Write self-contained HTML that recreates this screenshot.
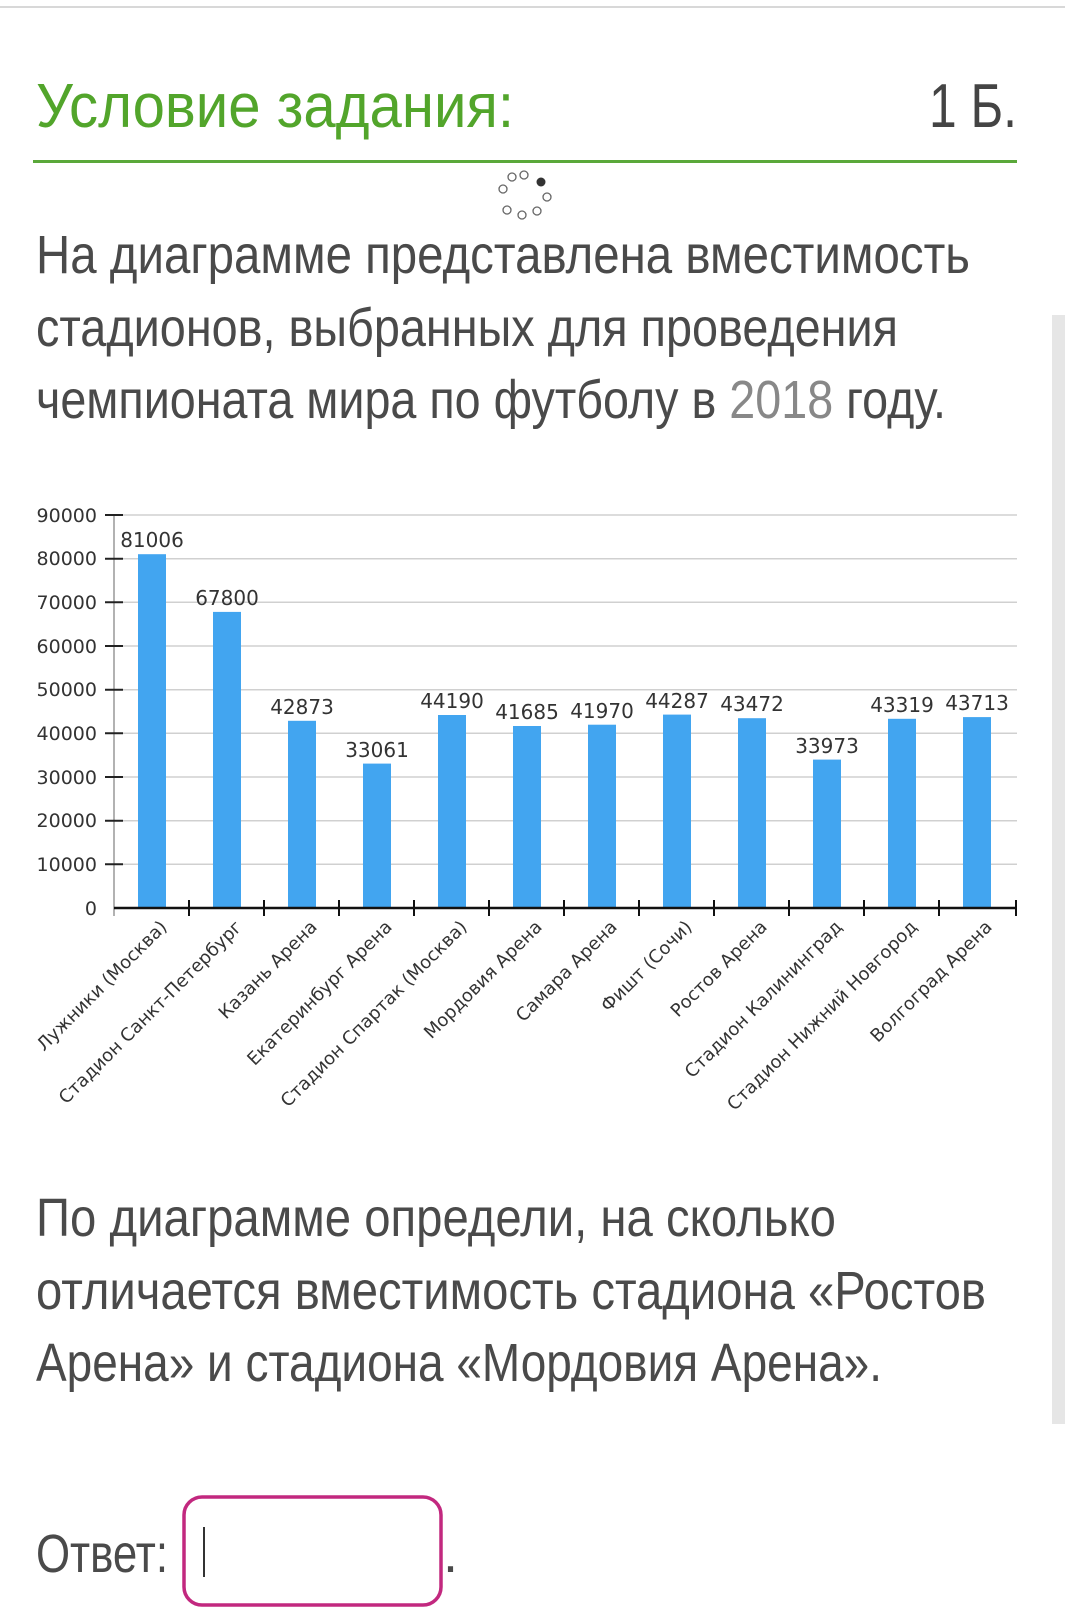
<!DOCTYPE html>
<html><head><meta charset="utf-8"><style>
html,body{margin:0;padding:0;background:#fff;}
svg{display:block;}
.t{font-family:"Liberation Sans Narrow","Liberation Sans",sans-serif;}
.c{font-family:"DejaVu Sans","Liberation Sans",sans-serif;}
</style></head><body>
<svg width="1065" height="1618" viewBox="0 0 1065 1618" xmlns="http://www.w3.org/2000/svg">
<rect x="0" y="0" width="1065" height="1618" fill="#fff"/>
<rect x="0" y="6" width="1065" height="2" fill="#d8d8d8"/>
<text class="t" x="36" y="127" font-size="62" fill="#52a52b" textLength="478" lengthAdjust="spacingAndGlyphs">Условие задания:</text>
<text class="t" x="929" y="127" font-size="62" fill="#444" textLength="88" lengthAdjust="spacingAndGlyphs">1 Б.</text>
<rect x="33" y="160" width="984" height="3" fill="#5aa83a"/>
<g fill="#fff" stroke="#666" stroke-width="1.3">
<circle cx="512" cy="177" r="4"/><circle cx="524" cy="175" r="4"/>
<circle cx="503" cy="189" r="4"/><circle cx="547" cy="197" r="4"/>
<circle cx="507" cy="210" r="4"/><circle cx="522" cy="215" r="4"/><circle cx="537" cy="211" r="4"/>
</g>
<circle cx="541" cy="182" r="4.5" fill="#333"/>
<g class="t" font-size="54" fill="#4a4a4a">
<text x="36" y="273" textLength="934" lengthAdjust="spacingAndGlyphs">На диаграмме представлена вместимость</text>
<text x="36" y="346" textLength="862" lengthAdjust="spacingAndGlyphs">стадионов, выбранных для проведения</text>
<text x="36" y="418" textLength="910" lengthAdjust="spacingAndGlyphs">чемпионата мира по футболу в <tspan fill="#888">2018</tspan> году.</text>
<text x="36" y="1236" textLength="800" lengthAdjust="spacingAndGlyphs">По диаграмме определи, на сколько</text>
<text x="36" y="1309" textLength="950" lengthAdjust="spacingAndGlyphs">отличается вместимость стадиона «Ростов</text>
<text x="36" y="1381" textLength="846" lengthAdjust="spacingAndGlyphs">Арена» и стадиона «Мордовия Арена».</text>
<text x="36" y="1572" textLength="132" lengthAdjust="spacingAndGlyphs">Ответ:</text>
<text x="443" y="1572">.</text>
</g>
<rect x="1052" y="315" width="13" height="1109" fill="#e6e6e6"/>
<rect x="184" y="1497" width="257" height="108" rx="18" fill="none" stroke="#c2287f" stroke-width="3.5"/>
<rect x="203" y="1527" width="2" height="50" fill="#333"/>
<g class="c">
<g stroke="#d0d0d0" stroke-width="1.5">
<line x1="114" y1="515" x2="1017" y2="515"/><line x1="114" y1="558.7" x2="1017" y2="558.7"/>
<line x1="114" y1="602.3" x2="1017" y2="602.3"/><line x1="114" y1="646" x2="1017" y2="646"/>
<line x1="114" y1="689.7" x2="1017" y2="689.7"/><line x1="114" y1="733.3" x2="1017" y2="733.3"/>
<line x1="114" y1="777" x2="1017" y2="777"/><line x1="114" y1="820.7" x2="1017" y2="820.7"/>
<line x1="114" y1="864.3" x2="1017" y2="864.3"/>
</g>
<line x1="114" y1="515" x2="114" y2="916" stroke="#999" stroke-width="1.5"/>
<g stroke="#222" stroke-width="2">
<line x1="105" y1="515" x2="123" y2="515"/><line x1="105" y1="558.7" x2="123" y2="558.7"/>
<line x1="105" y1="602.3" x2="123" y2="602.3"/><line x1="105" y1="646" x2="123" y2="646"/>
<line x1="105" y1="689.7" x2="123" y2="689.7"/><line x1="105" y1="733.3" x2="123" y2="733.3"/>
<line x1="105" y1="777" x2="123" y2="777"/><line x1="105" y1="820.7" x2="123" y2="820.7"/>
<line x1="105" y1="864.3" x2="123" y2="864.3"/>
</g>
<g font-size="19" fill="#333" text-anchor="end">
<text x="97" y="522">90000</text><text x="97" y="565">80000</text><text x="97" y="609">70000</text>
<text x="97" y="653">60000</text><text x="97" y="696">50000</text><text x="97" y="740">40000</text>
<text x="97" y="784">30000</text><text x="97" y="827">20000</text><text x="97" y="871">10000</text>
<text x="97" y="915">0</text>
</g>
<g fill="#42a5f0">
<rect x="138" y="554.2" width="28" height="353.8"/>
<rect x="213" y="611.9" width="28" height="296.1"/>
<rect x="288" y="720.8" width="28" height="187.2"/>
<rect x="363" y="763.6" width="28" height="144.4"/>
<rect x="438" y="715" width="28" height="193"/>
<rect x="513" y="726" width="28" height="182"/>
<rect x="588" y="724.7" width="28" height="183.3"/>
<rect x="663" y="714.6" width="28" height="193.4"/>
<rect x="738" y="718.2" width="28" height="189.8"/>
<rect x="813" y="759.6" width="28" height="148.4"/>
<rect x="888" y="718.8" width="28" height="189.2"/>
<rect x="963" y="717.1" width="28" height="190.9"/>
</g>
<line x1="114" y1="908" x2="1017" y2="908" stroke="#111" stroke-width="2.5"/>
<g stroke="#111" stroke-width="2">
<line x1="189" y1="900" x2="189" y2="916"/><line x1="264" y1="900" x2="264" y2="916"/>
<line x1="339" y1="900" x2="339" y2="916"/><line x1="414" y1="900" x2="414" y2="916"/>
<line x1="489" y1="900" x2="489" y2="916"/><line x1="564" y1="900" x2="564" y2="916"/>
<line x1="639" y1="900" x2="639" y2="916"/><line x1="714" y1="900" x2="714" y2="916"/>
<line x1="789" y1="900" x2="789" y2="916"/><line x1="864" y1="900" x2="864" y2="916"/>
<line x1="939" y1="900" x2="939" y2="916"/><line x1="1016" y1="900" x2="1016" y2="916"/>
</g>
<g font-size="20" fill="#333" text-anchor="middle">
<text x="152" y="547">81006</text><text x="227" y="605">67800</text><text x="302" y="714">42873</text>
<text x="377" y="757">33061</text><text x="452" y="708">44190</text><text x="527" y="719">41685</text>
<text x="602" y="718">41970</text><text x="677" y="708">44287</text><text x="752" y="711">43472</text>
<text x="827" y="753">33973</text><text x="902" y="712">43319</text><text x="977" y="710">43713</text>
</g>
<g font-size="18" fill="#333" text-anchor="end">
<text transform="translate(168,928) rotate(-45)">Лужники (Москва)</text>
<text transform="translate(243,928) rotate(-45)">Стадион Санкт-Петербург</text>
<text transform="translate(318,928) rotate(-45)">Казань Арена</text>
<text transform="translate(393,928) rotate(-45)">Екатеринбург Арена</text>
<text transform="translate(468,928) rotate(-45)">Стадион Спартак (Москва)</text>
<text transform="translate(543,928) rotate(-45)">Мордовия Арена</text>
<text transform="translate(618,928) rotate(-45)">Самара Арена</text>
<text transform="translate(693,928) rotate(-45)">Фишт (Сочи)</text>
<text transform="translate(768,928) rotate(-45)">Ростов Арена</text>
<text transform="translate(843,928) rotate(-45)">Стадион Калининград</text>
<text transform="translate(918,928) rotate(-45)">Стадион Нижний Новгород</text>
<text transform="translate(993,928) rotate(-45)">Волгоград Арена</text>
</g>
</g>
</svg>
</body></html>
